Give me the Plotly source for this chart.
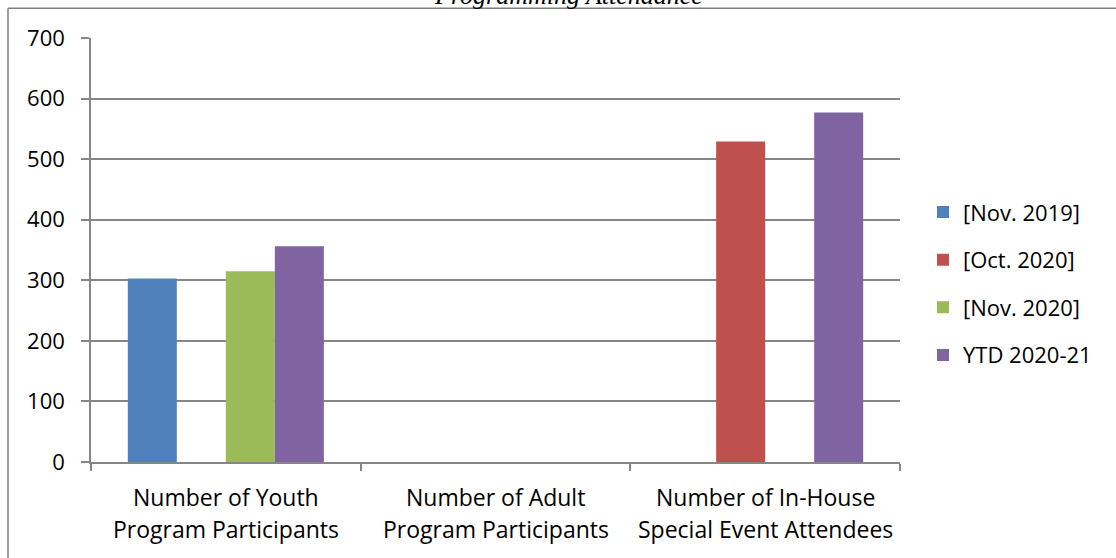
import plotly.graph_objects as go

categories = ["Youth", "Adult", "In-House"]
cat_line1 = ["Number of Youth", "Number of Adult", "Number of In-House"]
cat_line2 = ["Program Participants", "Program Participants", "Special Event Attendees"]

series_names = ["[Nov. 2019]", "[Oct. 2020]", "[Nov. 2020]", "YTD 2020-21"]
nov_2019 = [303, 0, 0]
oct_2020 = [0, 0, 529]
nov_2020 = [315, 0, 0]
ytd_2020_21 = [356, 0, 577]
series_values = [nov_2019, oct_2020, nov_2020, ytd_2020_21]
colors = ["#4F81BD", "#C0504D", "#9BBB59", "#8064A2"]

y_ticks = [0, 100, 200, 300, 400, 500, 600, 700]

FONT = "Open Sans"
W, H = 1116, 558
ML, MR, MT, MB = 91, 216, 37.7, 96.3
plot_w = W - ML - MR
plot_h = H - MT - MB

fig = go.Figure()
for i, (name, vals) in enumerate(zip(series_names, series_values)):
    fig.add_trace(go.Bar(
        x=categories, y=vals, name=name, marker_color=colors[i],
        marker_line_width=0, legendgroup=f"g{i}",
    ))

def py(pixel_y):
    return (H - MB - pixel_y) / plot_h

def px(pixel_x):
    return (pixel_x - ML) / plot_w

annotations = []
for c, l1, l2 in zip(categories, cat_line1, cat_line2):
    annotations.append(dict(x=c, xref="x", y=py(497), yref="paper", text=l1,
                            showarrow=False, yanchor="middle", xanchor="center",
                            font=dict(family=FONT, size=23, color="#000000")))
    annotations.append(dict(x=c, xref="x", y=py(529), yref="paper", text=l2,
                            showarrow=False, yanchor="middle", xanchor="center",
                            font=dict(family=FONT, size=23, color="#000000")))
annotations.append(dict(x=px(568), xref="paper", y=py(-5), yref="paper",
                        text="Programming Attendance", showarrow=False,
                        yanchor="middle", xanchor="center",
                        font=dict(family="Liberation Serif", size=26, color="#000000", style="italic")))

fig.update_layout(
    width=W, height=H,
    margin=dict(l=ML, r=MR, t=MT, b=MB, pad=0),
    paper_bgcolor="white", plot_bgcolor="white",
    barmode="group", bargap=0.273, bargroupgap=0,
    showlegend=True,
    legend=dict(x=px(923), xanchor="left", y=py(191), yanchor="top",
                font=dict(family=FONT, size=22, color="#000000"),
                tracegroupgap=16, itemwidth=30, bgcolor="rgba(0,0,0,0)"),
    annotations=annotations,
    shapes=[
        dict(type="line", xref="paper", yref="paper", x0=px(8), x1=px(W),
             y0=py(8), y1=py(8), line=dict(color="#7f7f7f", width=1.5)),
        dict(type="line", xref="paper", yref="paper", x0=px(8), x1=px(8),
             y0=py(8), y1=py(H), line=dict(color="#7f7f7f", width=1.5)),
    ],
    font=dict(family=FONT, size=22, color="#000000"),
)
fig.update_xaxes(
    type="category", showticklabels=False, showgrid=False,
    showline=True, linecolor="#868686", linewidth=1.5,
    ticks="outside", tickson="boundaries", ticklen=7, tickcolor="#868686", tickwidth=1.5,
)
fig.update_yaxes(
    range=[0, 700], tickvals=y_ticks, showgrid=True, gridcolor="#868686", gridwidth=1.5,
    showline=True, linecolor="#868686", linewidth=1.5, zeroline=False,
    ticks="outside", ticklen=8, tickcolor="#868686", tickwidth=1.5,
    ticklabelstandoff=12,
    tickfont=dict(family=FONT, size=22, color="#000000"),
)

fig.write_html("out.html")
